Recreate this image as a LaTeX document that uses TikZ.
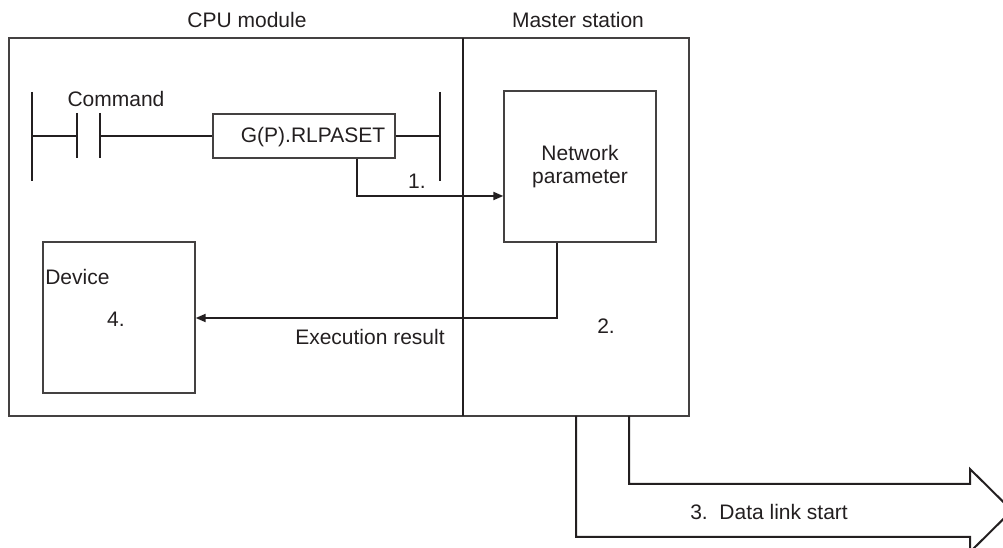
\documentclass[tikz,border=0pt]{standalone}
\usepackage{fontspec}
\setmainfont{Liberation Sans}
\usetikzlibrary{arrows.meta}
\definecolor{ink}{HTML}{231F20}
\begin{document}
\begin{tikzpicture}[x=0.75pt,y=-0.75pt,
  txt/.style={inner sep=0pt,text=ink,font=\fontsize{15.75}{18}\selectfont},
  boxline/.style={draw=ink!85,line width=1pt},
  heavy/.style={draw=ink,line width=1.5pt},
  arr/.style={heavy,-{Triangle[length=7.5pt,width=6pt]}},
  blk/.style={boxline,inner sep=0pt}]
\useasboundingbox (0,0) rectangle (1003,548);
\clip (0,0) rectangle (1003,548);
% outer frames
\node[blk,minimum width=510pt,minimum height=283.5pt] (outer) at (349,227) {};
\draw[heavy] (463,38) -- (463,416);
\node[txt] (cpu) at (247,20) {CPU module};
\node[txt] (ms) at (578,20) {Master station};
% ladder
\draw[heavy] (32,92) -- (32,181);
\draw[heavy] (440,92) -- (440,181);
\draw[heavy] (77,113) -- (77,158);
\draw[heavy] (100,113) -- (100,158);
\node[blk,minimum width=136.5pt,minimum height=33pt] (rl) at (304,136) {};
\node[txt] (rlt) at (313,137) {G(P).RLPASET};
\draw[heavy] (32,136) -- (77,136);
\draw[heavy] (100,136) -- (rl.west);
\draw[heavy] (rl.east) -- (440,136);
\node[txt] (cmd) at (116,99) {Command};
% network parameter
\node[blk,minimum width=114pt,minimum height=113.25pt,align=center,txt,
  font=\fontsize{15.75}{17.25}\selectfont] (np) at (580,166.5) {Network\\parameter};
\draw[arr] (rl.south -| 357,0) |- (np.west |- 0,196);
\node[txt] (one) at (417,181) {1.};
% device
\node[blk,minimum width=114pt,minimum height=113.25pt] (dev) at (119,317.5) {};
\node[txt,anchor=west] (devt) at (45,277) {Device};
\node[txt] (four) at (116,319) {4.};
\draw[arr] (np.south -| 557,0) |- (dev.east |- 0,318);
\node[txt] (exr) at (370,337) {Execution result};
\node[txt] (two) at (606,326) {2.};
% data link arrow
\draw[heavy] (629,416) -- (629,484) -- (970,484) -- (970,469) -- (1012,510.5)
  -- (970,552) -- (970,537) -- (576,537) -- (576,416);
\node[txt,anchor=west] (dl) at (690,512) {3.\ \ Data link start};
\end{tikzpicture}
\end{document}
